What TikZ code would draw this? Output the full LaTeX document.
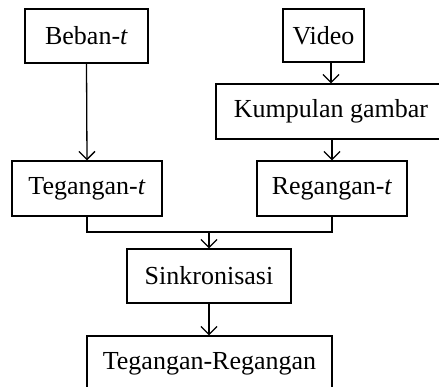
\documentclass[tikz,border=0pt]{standalone}
\usepackage{fontspec}
\setmainfont{Liberation Serif}
\usetikzlibrary{arrows.meta}
\begin{document}
\begin{tikzpicture}[x=1pt,y=-1pt,
  box/.style={draw,line width=1.3pt,inner sep=0pt,font=\fontsize{26}{30}\selectfont},
  arr/.style={line width=1.3pt,-{Straight Barb[length=8pt,width=16pt,line width=1.3pt]}},
  ln/.style={line width=1.3pt}]
\useasboundingbox (0,0) rectangle (439,387);
\clip (0,0) rectangle (439,387);
\node[box,minimum width=123pt,minimum height=54pt] (beban) at (86.5,36) {Beban-\textit{t}};
\node[box,minimum width=150pt,minimum height=55pt] (teg) at (87,188.5) {Tegangan-\textit{t}};
\node[box,minimum width=81pt,minimum height=53pt] (video) at (323.5,35.5) {Video};
\node[box,minimum width=230pt,minimum height=55pt] (kump) at (331,111.5) {Kumpulan gambar};
\node[box,minimum width=150pt,minimum height=55pt] (reg) at (332,188.5) {Regangan-\textit{t}};
\node[box,minimum width=164pt,minimum height=54pt] (sink) at (209,276) {Sinkronisasi};
\node[box,minimum width=245pt,minimum height=55pt] (tr) at (209.5,363.5) {Tegangan-Regangan};
\coordinate (j) at (209,232);
\draw[arr] (beban.south) -- (teg.north);
\draw[arr] (video.south -| kump.north) -- (kump.north);
\draw[arr] (kump.south -| reg.north) -- (reg.north);
\draw[ln] (teg.south) |- (j) -| (reg.south);
\draw[arr] (j) -- (sink.north);
\draw[arr] (sink.south) -- (sink.south |- tr.north);
\end{tikzpicture}
\end{document}
